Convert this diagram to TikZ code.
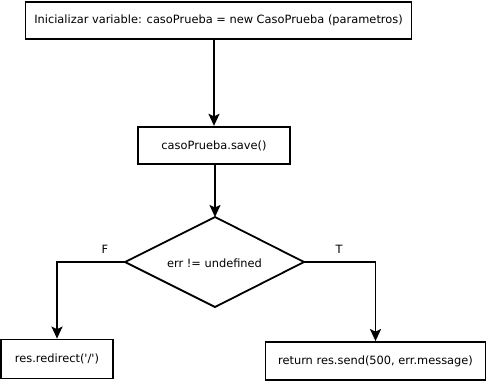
\documentclass[tikz,border=0pt]{standalone}
\usepackage{fontspec}
\setmainfont{DejaVu Sans}
\usetikzlibrary{arrows.meta,shapes.geometric}
\begin{document}
\begin{tikzpicture}[x=1pt,y=-1pt,
  box/.style={draw,line width=1.8pt,inner sep=0pt,font=\fontsize{11.4}{13}\selectfont},
  lbl/.style={font=\fontsize{11.4}{13}\selectfont,inner sep=0pt},
  flow/.style={line width=1.8pt,-{Stealth[length=12pt,width=11pt,inset=2.5pt]}}]
\useasboundingbox (0,0) rectangle (487,381);
% process steps
\node[box,minimum width=386pt,minimum height=37pt] (init) at (218.5,20.5)
  {Inicializar variable: casoPrueba = new CasoPrueba (parametros)};
\node[box,minimum width=152pt,minimum height=37.5pt] (save) at (214,145.5) {casoPrueba.save()};
% decision
\coordinate (dt) at (215,217);
\coordinate (dl) at (125,262);
\coordinate (dr) at (304,262);
\coordinate (db) at (215,307);
\draw[line width=1.8pt,line join=miter] (dt) -- (dr) -- (db) -- (dl) -- cycle;
\node[lbl] (cond) at (214.5,263) {err != undefined};
% outcomes
\node[box,minimum width=112pt,minimum height=39pt] (redir) at (57,359)
  {res.redirect(\textquotesingle/\textquotesingle)};
\node[box,minimum width=220pt,minimum height=38pt] (send) at (375.5,361) {return res.send(500, err.message)};
% connectors
\draw[flow] (init.south -| save.north) -- (save.north);
\draw[flow] (save.south -| dt) -- (dt);
\draw[flow] (dl) -- (redir.north |- dl) -- (redir.north);
\draw[flow] (dr) -- (send.north |- dr) -- (send.north);
% branch labels
\node[lbl] (lf) at (105,249) {F};
\node[lbl] (lt) at (339,249) {T};
\end{tikzpicture}
\end{document}
